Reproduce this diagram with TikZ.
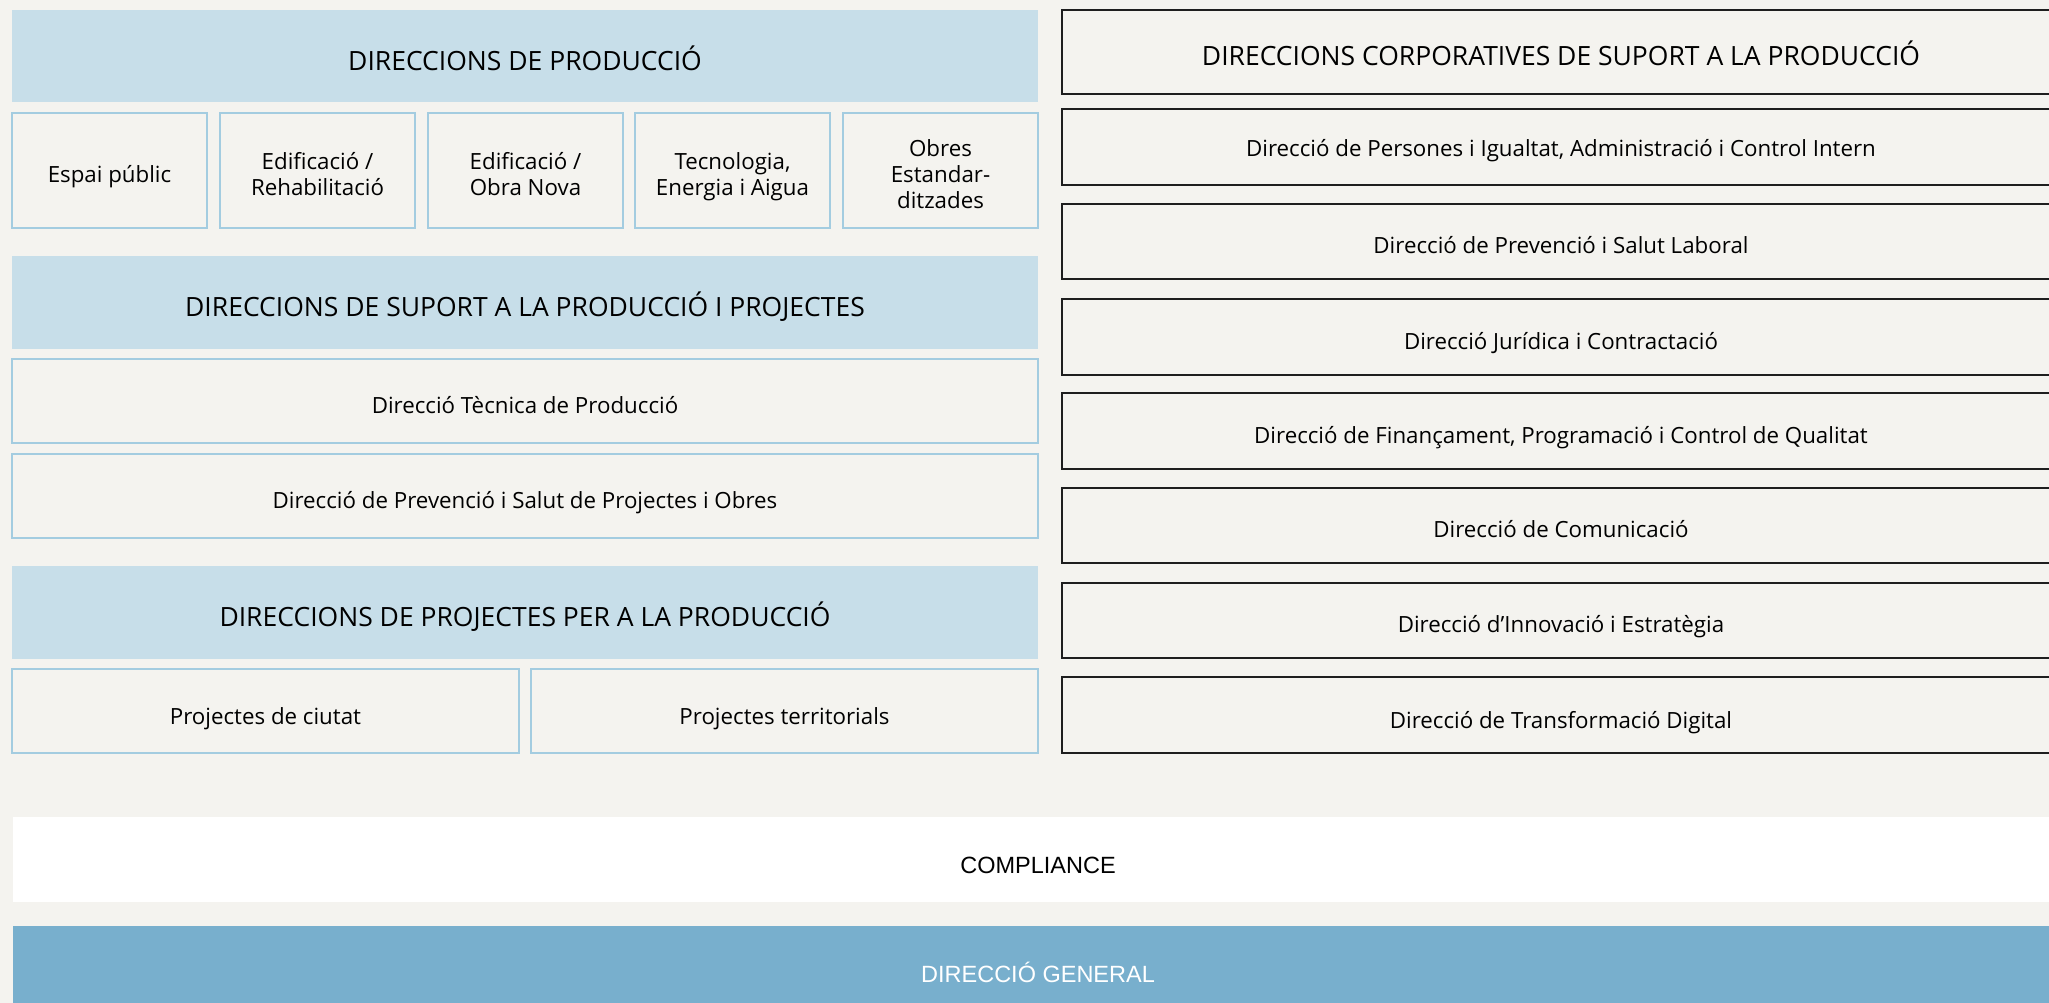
\documentclass[tikz,border=0pt]{standalone}
\usepackage{fontspec}
\setmainfont{Open Sans}
\newfontfamily\arialfont{Liberation Sans}
\definecolor{bgc}{HTML}{F4F3EF}
\definecolor{hdrblue}{HTML}{C7DEE9}
\definecolor{boxline}{HTML}{A3CCE0}
\definecolor{dgblue}{HTML}{78AFCD}
\definecolor{darkline}{HTML}{1E1E1E}
\newcommand\rtxt[2]{\raisebox{#1}[0pt][0pt]{#2}}
\newcommand\mtxt[2]{\raisebox{#1}[0pt][0pt]{\begin{tabular}[b]{@{}c@{}}#2\end{tabular}}}
\begin{document}
\begin{tikzpicture}[x=1pt,y=-1pt,
  every node/.style={inner sep=0pt, outer sep=0pt, anchor=north west, align=center, text=black},
  hdr/.style={fill=hdrblue, font=\fontsize{26.5}{32}\selectfont},
  lbox/.style={draw=boxline, line width=1.5pt, fill=bgc, font=\fontsize{22.3}{26}\selectfont},
  rbox/.style={draw=darkline, line width=1.4pt, fill=bgc, font=\fontsize{22.3}{26}\selectfont, minimum width=998pt},
  rhdr/.style={rbox, font=\fontsize{26.5}{32}\selectfont},
  band/.style={minimum width=2050pt, font=\arialfont\fontsize{23.5}{30}\selectfont},
]
\useasboundingbox (0,0) rectangle (2049,1003);
\fill[bgc] (0,0) rectangle (2049,1003);

% left column
\node[hdr, minimum width=1026pt, minimum height=92pt] (hp) at (12,10) {\rtxt{-15pt}{DIRECCIONS DE PRODUCCIÓ}};
\node[lbox, minimum width=195pt, minimum height=115pt] (e1) at (12,113) {\rtxt{-12pt}{Espai públic}};
\node[lbox, minimum width=195pt, minimum height=115pt] (e2) at (220,113) {\mtxt{-25.5pt}{Edificació /\\Rehabilitació}};
\node[lbox, minimum width=195pt, minimum height=115pt] (e3) at (428,113) {\mtxt{-25.5pt}{Edificació /\\Obra Nova}};
\node[lbox, minimum width=195pt, minimum height=115pt] (e4) at (635,113) {\mtxt{-25.5pt}{Tecnologia,\\Energia i Aigua}};
\node[lbox, minimum width=195pt, minimum height=115pt] (e5) at (843,113) {\mtxt{-38.5pt}{Obres\\Estandar-\\ditzades}};

\node[hdr, minimum width=1026pt, minimum height=93pt] (hs) at (12,256) {\rtxt{-14pt}{DIRECCIONS DE SUPORT A LA PRODUCCIÓ I PROJECTES}};
\node[lbox, minimum width=1026pt, minimum height=84pt] (s1) at (12,359) {\rtxt{-12pt}{Direcció Tècnica de Producció}};
\node[lbox, minimum width=1026pt, minimum height=84pt] (s2) at (12,454) {\rtxt{-12pt}{Direcció de Prevenció i Salut de Projectes i Obres}};

\node[hdr, minimum width=1026pt, minimum height=93pt] (hj) at (12,566) {\rtxt{-14pt}{DIRECCIONS DE PROJECTES PER A LA PRODUCCIÓ}};
\node[lbox, minimum width=507pt, minimum height=84pt] (p1) at (12,669) {\rtxt{-13pt}{Projectes de ciutat}};
\node[lbox, minimum width=507pt, minimum height=84pt] (p2) at (531,669) {\rtxt{-13pt}{Projectes territorials}};

% right column
\node[rhdr, minimum height=84pt] (rc) at (1062,10) {\rtxt{-14pt}{DIRECCIONS CORPORATIVES DE SUPORT A LA PRODUCCIÓ}};
\node[rbox, minimum height=76pt] (r1) at (1062,109) {\rtxt{-10pt}{Direcció de Persones i Igualtat, Administració i Control Intern}};
\node[rbox, minimum height=75pt] (r2) at (1062,204) {\rtxt{-12pt}{Direcció de Prevenció i Salut Laboral}};
\node[rbox, minimum height=76pt] (r3) at (1062,299) {\rtxt{-12pt}{Direcció Jurídica i Contractació}};
\node[rbox, minimum height=76pt] (r4) at (1062,393) {\rtxt{-12pt}{Direcció de Finançament, Programació i Control de Qualitat}};
\node[rbox, minimum height=75pt] (r5) at (1062,488) {\rtxt{-12pt}{Direcció de Comunicació}};
\node[rbox, minimum height=75pt] (r6) at (1062,583) {\rtxt{-12pt}{Direcció d’Innovació i Estratègia}};
\node[rbox, minimum height=76pt] (r7) at (1062,677) {\rtxt{-13pt}{Direcció de Transformació Digital}};

% bottom bands
\node[band, fill=white, minimum height=85pt] (comp) at (13,817) {\rtxt{-14pt}{COMPLIANCE}};
\node[band, fill=dgblue, minimum height=90pt, text=white] (dg) at (13,926) {\rtxt{-11.5pt}{DIRECCIÓ GENERAL}};
\end{tikzpicture}
\end{document}
